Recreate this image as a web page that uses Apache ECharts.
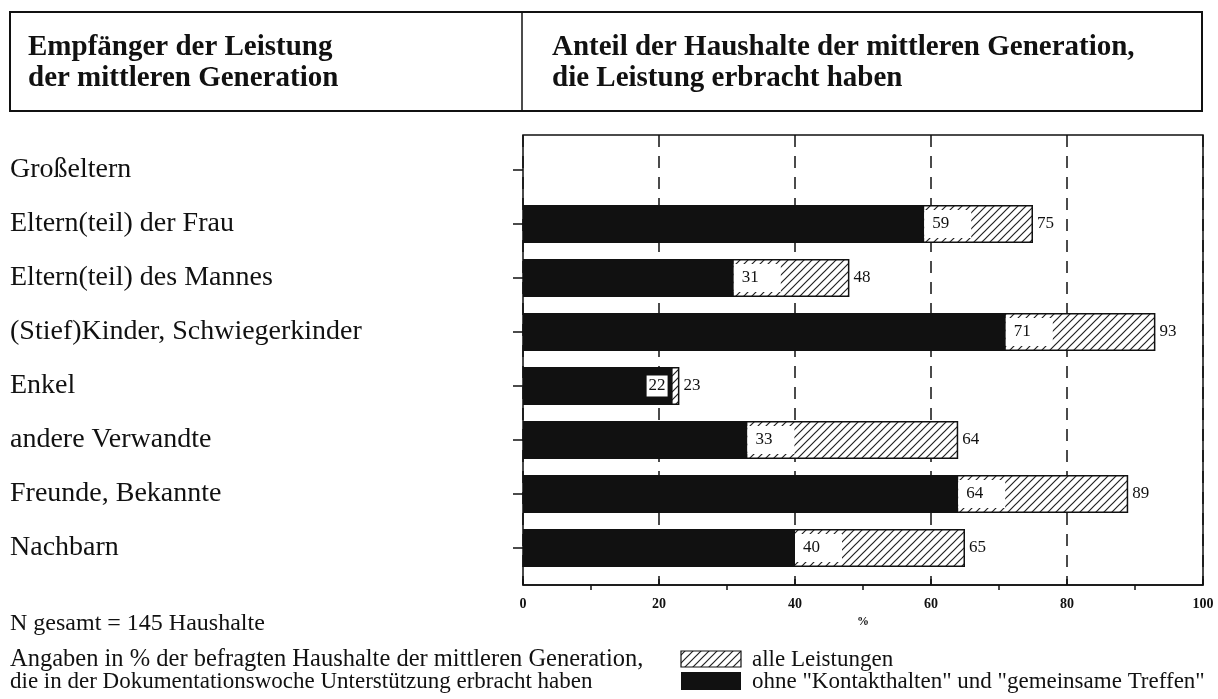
<!DOCTYPE html>
<html>
<head>
<meta charset="utf-8">
<script src="https://cdn.jsdelivr.net/npm/echarts@6/dist/echarts.min.js"></script>
<style>
  html, body { margin: 0; padding: 0; background: #fff; }
  #chart { width: 1218px; height: 699px; }
</style>
</head>
<body>
<div id="chart"></div>
<script>
// Recipients of support from the middle generation
const categories = [
  'Großeltern',
  'Eltern(teil) der Frau',
  'Eltern(teil) des Mannes',
  '(Stief)Kinder, Schwiegerkinder',
  'Enkel',
  'andere Verwandte',
  'Freunde, Bekannte',
  'Nachbarn'
];
// Share of households (%) – all kinds of support
const alleLeistungen = [null, 75, 48, 93, 23, 64, 89, 65];
// Share of households (%) – without "keeping in touch" and "meeting up"
const ohneKontakt = [null, 59, 31, 71, 22, 33, 64, 40];

const seriesNames = ['alle Leistungen', 'ohne "Kontakthalten" und "gemeinsame Treffen"'];

const SERIF = '"Liberation Serif", "Times New Roman", serif';
const INK = '#111';

// Diagonal hatch tile used as the fill of the "all support" bars
function hatchTile(size, color, width) {
  const c = document.createElement('canvas');
  c.width = c.height = size;
  const g = c.getContext('2d');
  g.fillStyle = '#fff';
  g.fillRect(0, 0, size, size);
  g.strokeStyle = color;
  g.lineWidth = width;
  g.beginPath();
  g.moveTo(-1, size + 1); g.lineTo(size + 1, -1);
  g.moveTo(-1, 1); g.lineTo(1, -1);
  g.moveTo(size - 1, size + 1); g.lineTo(size + 1, size - 1);
  g.stroke();
  return c;
}
const hatch = { image: hatchTile(8, '#222', 1.2), repeat: 'repeat' };

// Inner value labels sit in a white box just right of the black bar;
// when the remaining hatched part is too short, the box moves inside.
const ohneData = ohneKontakt.map((v, i) => {
  if (v == null) return null;
  const rest = (alleLeistungen[i] || 0) - v;
  if (rest < 5) {
    return { value: v, label: { position: 'insideRight', distance: 5, padding: [3, 2, 1, 2] } };
  }
  return v;
});

const chart = echarts.init(document.getElementById('chart'));

// Legend keys drawn as plain shapes below the plot
const legendX = 681, legendTextX = 752;
const legendGraphics = [
  { type: 'rect', shape: { x: legendX, y: 651, width: 60, height: 16 },
    style: { fill: hatch, stroke: INK, lineWidth: 1.2 } },
  { type: 'text', x: legendTextX, y: 660,
    style: { text: seriesNames[0], font: '23px ' + SERIF, fill: INK, verticalAlign: 'middle' } },
  { type: 'rect', shape: { x: legendX, y: 672, width: 60, height: 18 },
    style: { fill: INK } },
  { type: 'text', x: legendTextX, y: 682,
    style: { text: seriesNames[1], font: '23px ' + SERIF, fill: INK, verticalAlign: 'middle' } }
];

chart.setOption({
  animation: false,
  backgroundColor: '#fff',
  textStyle: { fontFamily: SERIF, color: INK },
  grid: [
    { left: 523, width: 680, top: 143, height: 432, show: false },
    { left: 523, width: 680, top: 135, height: 450, show: true,
      borderColor: INK, borderWidth: 1.5, backgroundColor: 'transparent' }
  ],
  xAxis: [
    { gridIndex: 0, type: 'value', min: 0, max: 100, show: false },
    {
      gridIndex: 1, type: 'value', position: 'bottom', min: 0, max: 100, interval: 20,
      axisLine: { show: true, lineStyle: { color: INK, width: 1.5 } },
      axisTick: { show: true, inside: true, length: 6, lineStyle: { color: INK, width: 1.5 } },
      axisLabel: { fontFamily: SERIF, fontSize: 14, fontWeight: 'bold', color: INK, margin: 12 },
      splitLine: { show: true, lineStyle: { color: INK, width: 1.5, type: [12, 9] } },
      name: '%', nameLocation: 'middle', nameGap: 30,
      nameTextStyle: { fontFamily: SERIF, fontSize: 12, fontWeight: 'bold', color: INK }
    },
    {
      gridIndex: 1, type: 'value', position: 'bottom', min: 0, max: 100, interval: 20,
      axisLine: { show: false },
      axisTick: { show: false },
      minorTick: { show: true, splitNumber: 2, length: 5, lineStyle: { color: INK, width: 1.5 } },
      axisLabel: { show: false },
      splitLine: { show: false }
    }
  ],
  yAxis: [
    {
      gridIndex: 0, type: 'category', data: categories, inverse: true,
      axisLine: { show: false },
      axisTick: { show: true, alignWithLabel: true, length: 10, lineStyle: { color: INK, width: 1.5 } },
      axisLabel: { margin: 513, align: 'left', fontFamily: SERIF, fontSize: 28, color: INK, padding: [6, 0, 0, 0] }
    },
    { gridIndex: 1, type: 'value', show: false }
  ],
  series: [
    {
      name: seriesNames[0], type: 'bar', xAxisIndex: 0, yAxisIndex: 0,
      data: alleLeistungen, barWidth: 38, barGap: '-100%',
      itemStyle: { color: hatch, borderColor: INK, borderWidth: 1.5 },
      label: { show: true, position: 'right', distance: 4, fontFamily: SERIF, fontSize: 17, color: INK }
    },
    {
      name: seriesNames[1], type: 'bar', xAxisIndex: 0, yAxisIndex: 0,
      data: ohneData, barWidth: 38, barGap: '-100%',
      itemStyle: { color: INK },
      label: {
        show: true, position: 'right', distance: 0,
        fontFamily: SERIF, fontSize: 17, color: INK,
        backgroundColor: '#fff', padding: [6, 22, 5, 8]
      }
    }
  ],
  graphic: [
    { type: 'rect', shape: { x: 10, y: 12, width: 1192, height: 99 },
      style: { fill: 'none', stroke: INK, lineWidth: 2 } },
    { type: 'line', shape: { x1: 522, y1: 12, x2: 522, y2: 111 },
      style: { stroke: INK, lineWidth: 1.5 } },
    { type: 'text', x: 28, y: 48, style: { text: 'Empfänger der Leistung', font: 'bold 29px ' + SERIF, fill: INK, verticalAlign: 'middle' } },
    { type: 'text', x: 28, y: 79, style: { text: 'der mittleren Generation', font: 'bold 29px ' + SERIF, fill: INK, verticalAlign: 'middle' } },
    { type: 'text', x: 552, y: 48, style: { text: 'Anteil der Haushalte der mittleren Generation,', font: 'bold 29px ' + SERIF, fill: INK, verticalAlign: 'middle' } },
    { type: 'text', x: 552, y: 79, style: { text: 'die Leistung erbracht haben', font: 'bold 29px ' + SERIF, fill: INK, verticalAlign: 'middle' } },
    { type: 'text', x: 10, y: 624, style: { text: 'N gesamt = 145 Haushalte', font: '24px ' + SERIF, fill: INK, verticalAlign: 'middle' } },
    { type: 'text', x: 10, y: 660, style: { text: 'Angaben in % der befragten Haushalte der mittleren Generation,', font: '24.5px ' + SERIF, fill: INK, verticalAlign: 'middle' } },
    { type: 'text', x: 10, y: 682, style: { text: 'die in der Dokumentationswoche Unterstützung erbracht haben', font: '23px ' + SERIF, fill: INK, verticalAlign: 'middle' } }
  ].concat(legendGraphics)
});
</script>
</body>
</html>
